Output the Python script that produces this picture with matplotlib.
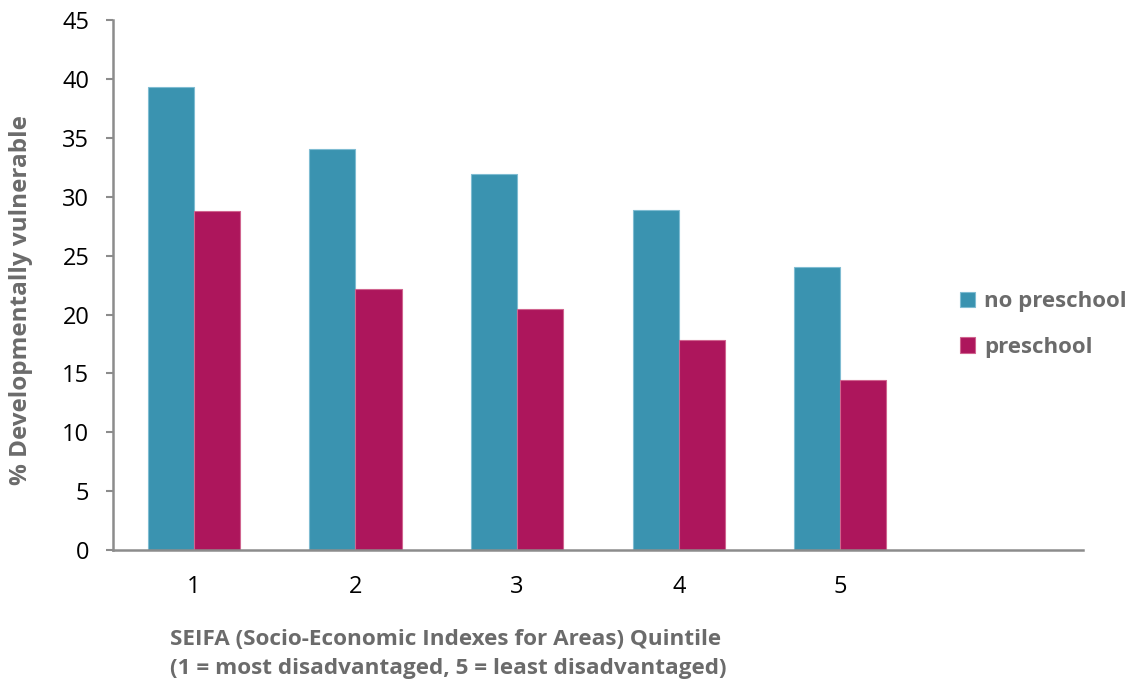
import matplotlib
matplotlib.use('Agg')
import matplotlib.pyplot as plt
import numpy as np

# dados
quintis = ['1', '2', '3', '4', '5', '']
sem_preescola = [39.3, 34.1, 31.9, 28.9, 24.0]
com_preescola = [28.8, 22.2, 20.5, 17.8, 14.4]

cor_azul = '#3A93B0'
cor_roxo = '#AD165C'
cinza = '#6B6B6B'
eixo = '#8C8C8C'

plt.rcParams['font.family'] = ['Open Sans', 'DejaVu Sans']

fig = plt.figure(figsize=(11.28, 6.89), dpi=100)
ax = fig.add_axes([0.1002, 0.2017, 0.8598, 0.769])

x = np.arange(len(sem_preescola))
largura = 0.285
ax.bar(x - largura / 2, sem_preescola, largura, color=cor_azul, edgecolor='#7FBCD2',
       linewidth=0.8, label='no preschool')
ax.bar(x + largura / 2, com_preescola, largura, color=cor_roxo, edgecolor='#D0648F',
       linewidth=0.8, label='preschool')

ax.set_xlim(-0.5, 5.5)
ax.set_ylim(0, 45)
ax.set_yticks(range(0, 46, 5))
ax.set_xticks(range(len(quintis)))
ax.set_xticklabels(quintis)

for lado in ['top', 'right']:
    ax.spines[lado].set_visible(False)
for lado in ['left', 'bottom']:
    ax.spines[lado].set_color(eixo)
    ax.spines[lado].set_linewidth(1.8)

ax.tick_params(axis='y', length=5, width=1.5, color=eixo, pad=12, labelsize=17, labelcolor='black')
ax.tick_params(axis='x', length=0, pad=18, labelsize=17, labelcolor='black')

ax.set_ylabel('% Developmentally vulnerable', fontsize=17.5, fontweight='bold', color=cinza)
ax.yaxis.set_label_coords(-0.082, 0.472)

fig.text(170 / 1128, 0.051,
         'SEIFA (Socio-Economic Indexes for Areas) Quintile\n(1 = most disadvantaged, 5 = least disadvantaged)',
         fontsize=16.2, fontweight='bold', color=cinza, linespacing=1.5,
         ha='left', va='center')

leg = ax.legend(loc='center left', bbox_to_anchor=(0.873, 0.426), frameon=False,
                fontsize=16, handlelength=0.7, handleheight=0.7, handletextpad=0.4,
                labelspacing=1.1, borderaxespad=0, borderpad=0)
for t in leg.get_texts():
    t.set_color(cinza)
    t.set_fontweight('bold')

fig.savefig('out.png', dpi=100)
